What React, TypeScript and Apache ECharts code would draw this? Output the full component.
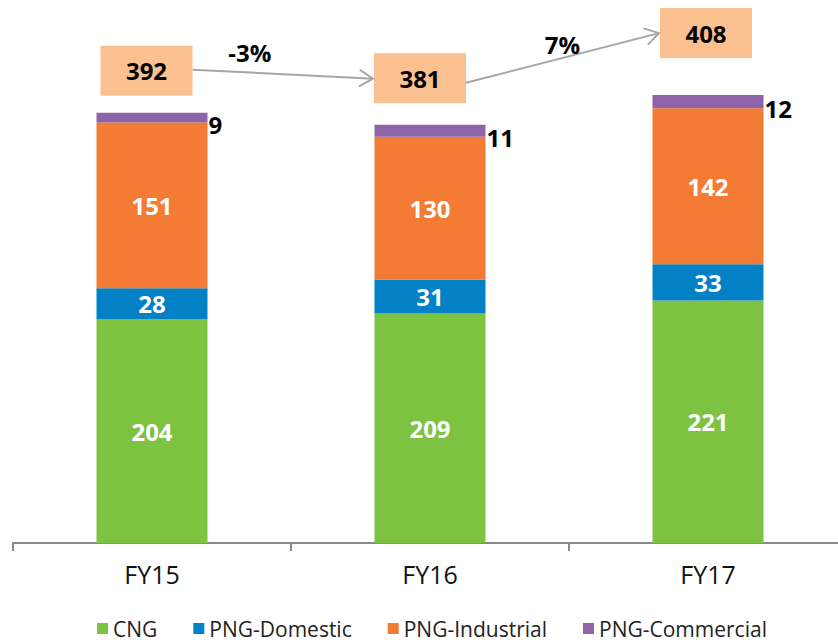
import React, { useEffect, useRef } from "react";
import * as echarts from "echarts";

const categories = ["FY15", "FY16", "FY17"];
const cng = [204, 209, 221];
const pngDomestic = [28, 31, 33];
const pngIndustrial = [151, 130, 142];
const pngCommercial = [9, 11, 12];
const seriesNames = ["CNG", "PNG-Domestic", "PNG-Industrial", "PNG-Commercial"];

const totals = categories.map((_, i) => cng[i] + pngDomestic[i] + pngIndustrial[i] + pngCommercial[i]);

// layout tweaks for the total boxes (pixels, relative to bar top)
const boxDx = [-5.5, -10, -2];
const boxDy = [-42, -46.5, -62];
const pctDx = [-33, 0];
const pctDy = [-22, -13];

const FONT = "'Open Sans', Lato, sans-serif";

export default function App() {
  const ref = useRef<HTMLDivElement>(null);
  useEffect(() => {
    if (!ref.current) return;
    const chart = echarts.init(ref.current, undefined, { renderer: "svg" });
    const inLabel = {
      show: true,
      position: "inside",
      color: "#fff",
      fontWeight: "bold",
      fontSize: 24,
      fontFamily: FONT,
    };
    const BW = 92, BH = 50;
    const boxCenter = (api: any, i: number) => {
      const p = api.coord([i, totals[i]]);
      return [p[0] + boxDx[i], p[1] + boxDy[i]];
    };
    const option: any = {
      animation: false,
      grid: { left: 13, width: 834, top: 49, height: 494, outerBoundsMode: "none", containLabel: false },
      legend: {
        left: 92,
        top: 613,
        icon: "rect",
        itemWidth: 11,
        itemHeight: 11,
        itemGap: 36,
        textStyle: { fontSize: 21, color: "#222", fontFamily: FONT },
        data: seriesNames,
      },
      xAxis: {
        type: "category",
        data: categories,
        axisLine: { lineStyle: { color: "#8a8a8a", width: 2 } },
        axisTick: { show: true, length: 8, lineStyle: { color: "#8a8a8a", width: 2 } },
        axisLabel: { fontSize: 25, color: "#111", margin: 18, fontFamily: FONT },
      },
      yAxis: { type: "value", min: 0, max: 450, show: false, splitLine: { show: false } },
      series: [
        { name: seriesNames[0], type: "bar", stack: "t", barWidth: 111, data: cng, itemStyle: { color: "#7EC242" }, label: inLabel },
        { name: seriesNames[1], type: "bar", stack: "t", data: pngDomestic, itemStyle: { color: "#0281C6" }, label: inLabel },
        { name: seriesNames[2], type: "bar", stack: "t", data: pngIndustrial, itemStyle: { color: "#F37B33" }, label: inLabel },
        {
          name: seriesNames[3], type: "bar", stack: "t", data: pngCommercial, itemStyle: { color: "#8E63A8" },
          label: { show: true, position: "right", distance: 1, offset: [0, 7], color: "#000", fontWeight: "bold", fontSize: 24, fontFamily: FONT },
        },
        {
          type: "custom",
          z: 10,
          silent: true,
          data: totals.map((t, i) => [i, t]),
          renderItem: (params: any, api: any) => {
            const i = params.dataIndex;
            const c = boxCenter(api, i);
            const children: any[] = [
              { type: "rect", shape: { x: c[0] - BW / 2, y: c[1] - BH / 2, width: BW, height: BH }, style: { fill: "#FAC090" } },
              {
                type: "text",
                x: c[0], y: c[1],
                style: { text: String(totals[i]), fill: "#000", font: `bold 24px ${FONT}`, align: "center", verticalAlign: "middle" },
              },
            ];
            if (i > 0) {
              const pc = boxCenter(api, i - 1);
              const x1 = pc[0] + BW / 2, y1 = pc[1] + (i === 2 ? 4.5 : -1);
              const x2 = c[0] - BW / 2 - 1, y2 = c[1] + (i === 1 ? 0.5 : 0);
              const ang = Math.atan2(y2 - y1, x2 - x1);
              const L = 16, W = 0.55;
              const a1 = [x2 - L * Math.cos(ang - W), y2 - L * Math.sin(ang - W)];
              const a2 = [x2 - L * Math.cos(ang + W), y2 - L * Math.sin(ang + W)];
              children.push({ type: "line", shape: { x1, y1, x2, y2 }, style: { stroke: "#A6A6A6", lineWidth: 2 } });
              children.push({ type: "polyline", shape: { points: [a1, [x2, y2], a2] }, style: { stroke: "#A6A6A6", lineWidth: 2, fill: null } });
              const pct = Math.round(((totals[i] - totals[i - 1]) / totals[i - 1]) * 100);
              children.push({
                type: "text",
                x: (x1 + x2) / 2 + pctDx[i - 1],
                y: (y1 + y2) / 2 + pctDy[i - 1],
                style: { text: `${pct}%`, fill: "#000", font: `bold 24px ${FONT}`, align: "center", verticalAlign: "middle" },
              });
            }
            return { type: "group", children };
          },
        },
      ],
    };
    chart.setOption(option);
    return () => chart.dispose();
  }, []);
  return <div ref={ref} style={{ width: 838, height: 643, position: "absolute", left: 0, top: 0 }} />;
}
